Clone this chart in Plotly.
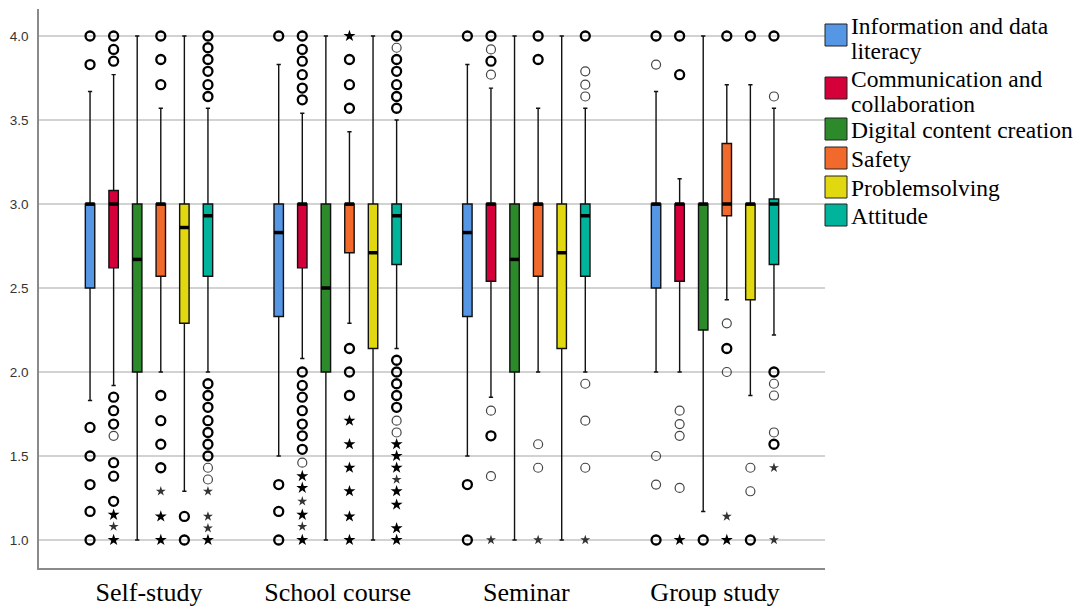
import plotly.graph_objects as go
from collections import Counter

# Learning settings on the category axis
groups = ["Self-study", "School course", "Seminar", "Group study"]

# Competence domains, one box per setting
domains = [
    "Information and data literacy",
    "Communication and collaboration",
    "Digital content creation",
    "Safety",
    "Problemsolving",
    "Attitude",
]
domain_lines = [
    ["Information and data", "literacy"],
    ["Communication and", "collaboration"],
    ["Digital content creation"],
    ["Safety"],
    ["Problemsolving"],
    ["Attitude"],
]
colors = ["#5596E5", "#D5003A", "#2C8A2B", "#F26A2B", "#E2D80F", "#00B39B"]

# Box statistics: rows = domains, columns = settings
box_q1 = [
    [2.50, 2.33, 2.33, 2.50],
    [2.62, 2.62, 2.54, 2.54],
    [2.00, 2.00, 2.00, 2.25],
    [2.57, 2.71, 2.57, 2.93],
    [2.29, 2.14, 2.14, 2.43],
    [2.57, 2.64, 2.57, 2.64],
]
box_median = [
    [3.00, 2.83, 2.83, 3.00],
    [3.00, 3.00, 3.00, 3.00],
    [2.67, 2.50, 2.67, 3.00],
    [3.00, 3.00, 3.00, 3.00],
    [2.86, 2.71, 2.71, 3.00],
    [2.93, 2.93, 2.93, 3.00],
]
box_q3 = [
    [3.00, 3.00, 3.00, 3.00],
    [3.08, 3.00, 3.00, 3.00],
    [3.00, 3.00, 3.00, 3.00],
    [3.00, 3.00, 3.00, 3.36],
    [3.00, 3.00, 3.00, 3.00],
    [3.00, 3.00, 3.00, 3.03],
]
whisker_low = [
    [1.83, 1.50, 1.50, 2.00],
    [1.92, 2.08, 1.85, 2.00],
    [1.00, 1.00, 1.00, 1.17],
    [2.00, 2.29, 2.00, 2.43],
    [1.29, 1.00, 1.00, 1.86],
    [2.00, 2.14, 2.00, 2.22],
]
whisker_high = [
    [3.67, 3.83, 3.83, 3.67],
    [3.77, 3.54, 3.69, 3.15],
    [4.00, 4.00, 4.00, 4.00],
    [3.57, 3.43, 3.57, 3.71],
    [4.00, 4.00, 4.00, 3.71],
    [3.57, 3.50, 3.57, 3.57],
]

# Outlying cases (repeated values = several respondents at that score)
info_outliers = [
    [4.0, 4.0, 3.83, 3.83, 1.67, 1.67, 1.5, 1.5, 1.33, 1.33, 1.17, 1.17, 1.0, 1.0],
    [4.0, 4.0, 1.33, 1.33, 1.17, 1.17, 1.0, 1.0],
    [4.0, 4.0, 1.33, 1.33, 1.0, 1.0],
    [4.0, 4.0, 3.83, 1.5, 1.33, 1.0, 1.0],
]
info_extremes = [[], [], [], []]

comm_outliers = [
    [4.0, 4.0, 3.92, 3.92, 3.85, 3.85, 1.85, 1.85, 1.77, 1.77, 1.69, 1.69, 1.62,
     1.46, 1.46, 1.38, 1.38, 1.23, 1.23],
    [4.0, 4.0, 3.92, 3.92, 3.85, 3.85, 3.77, 3.77, 3.69, 3.69, 3.62, 3.62,
     2.0, 2.0, 1.92, 1.92, 1.85, 1.85, 1.77, 1.77, 1.69, 1.69, 1.62, 1.62,
     1.54, 1.54, 1.46],
    [4.0, 4.0, 3.92, 3.85, 3.85, 3.77, 1.77, 1.62, 1.62, 1.38],
    [4.0, 4.0, 3.77, 3.77, 1.77, 1.69, 1.62, 1.31],
]
comm_extremes = [
    [1.15, 1.15, 1.08, 1.0, 1.0],
    [1.38, 1.38, 1.31, 1.31, 1.23, 1.15, 1.15, 1.08, 1.0, 1.0],
    [1.0],
    [1.0, 1.0],
]

digital_outliers = [[], [], [], [1.0, 1.0]]
digital_extremes = [[], [], [], []]

safety_outliers = [
    [4.0, 4.0, 3.86, 3.86, 3.71, 3.71, 1.86, 1.86, 1.71, 1.71, 1.57, 1.57, 1.43, 1.43],
    [3.86, 3.86, 3.71, 3.71, 3.57, 3.57, 2.14, 2.14, 2.0, 2.0, 1.86, 1.86],
    [4.0, 4.0, 3.86, 3.86, 1.57, 1.43],
    [4.0, 4.0, 2.29, 2.14, 2.14, 2.0],
]
safety_extremes = [
    [1.29, 1.14, 1.14, 1.0, 1.0],
    [4.0, 4.0, 1.71, 1.71, 1.57, 1.57, 1.43, 1.43, 1.29, 1.29, 1.14, 1.14, 1.0, 1.0],
    [1.0],
    [1.14, 1.0, 1.0],
]

problem_outliers = [
    [1.14, 1.14, 1.0, 1.0],
    [],
    [],
    [4.0, 4.0, 1.43, 1.29, 1.0, 1.0],
]
problem_extremes = [[], [], [], []]

attitude_outliers = [
    [4.0, 4.0, 3.93, 3.93, 3.86, 3.86, 3.79, 3.79, 3.71, 3.71, 3.64, 3.64,
     1.93, 1.93, 1.86, 1.86, 1.79, 1.79, 1.71, 1.71, 1.64, 1.64, 1.57, 1.57,
     1.5, 1.5, 1.43, 1.36],
    [4.0, 4.0, 3.93, 3.86, 3.86, 3.79, 3.79, 3.71, 3.71, 3.64, 3.64, 3.57, 3.57,
     2.07, 2.07, 2.0, 2.0, 1.93, 1.93, 1.86, 1.86, 1.79, 1.79, 1.71, 1.64],
    [4.0, 4.0, 3.79, 3.71, 3.64, 1.93, 1.71, 1.43],
    [4.0, 4.0, 3.64, 2.0, 2.0, 1.93, 1.86, 1.64, 1.57, 1.57],
]
attitude_extremes = [
    [1.29, 1.14, 1.07, 1.0, 1.0],
    [1.57, 1.57, 1.5, 1.5, 1.43, 1.43, 1.36, 1.29, 1.29, 1.21, 1.21, 1.07, 1.07, 1.0, 1.0],
    [1.0],
    [1.43, 1.0],
]

outliers = [info_outliers, comm_outliers, digital_outliers,
            safety_outliers, problem_outliers, attitude_outliers]
extremes = [info_extremes, comm_extremes, digital_extremes,
            safety_extremes, problem_extremes, attitude_extremes]

# Geometry of the grouped layout (category units)
STEP = 0.125
BOX_W = 0.05


def pos(g, d):
    return g + (d - 2.5) * STEP


fig = go.Figure()

for d, name in enumerate(domains):
    xs = [pos(g, d) for g in range(len(groups))]
    fig.add_trace(go.Box(
        x=xs,
        q1=box_q1[d], median=box_median[d], q3=box_q3[d],
        lowerfence=whisker_low[d], upperfence=whisker_high[d],
        name=name, width=BOX_W, whiskerwidth=0.45,
        fillcolor=colors[d], line=dict(color="#111111", width=1.4),
        boxpoints=False, showlegend=False, hoverinfo="skip",
    ))
    # heavier median bar
    mx, my = [], []
    for g, x in enumerate(xs):
        mx += [x - BOX_W / 2, x + BOX_W / 2, None]
        my += [box_median[d][g], box_median[d][g], None]
    fig.add_trace(go.Scatter(x=mx, y=my, mode="lines",
                             line=dict(color="black", width=3.5),
                             showlegend=False, hoverinfo="skip"))


def point_sets(table):
    heavy_x, heavy_y, light_x, light_y = [], [], [], []
    for d, per_group in enumerate(table):
        for g, values in enumerate(per_group):
            for v, n in Counter(values).items():
                if n > 1:
                    heavy_x.append(pos(g, d)); heavy_y.append(v)
                else:
                    light_x.append(pos(g, d)); light_y.append(v)
    return heavy_x, heavy_y, light_x, light_y


hx, hy, lx, ly = point_sets(outliers)
fig.add_trace(go.Scatter(x=hx, y=hy, mode="markers", showlegend=False, hoverinfo="skip",
                         marker=dict(symbol="circle-open", size=9, color="black",
                                     line=dict(width=2.3, color="black"))))
fig.add_trace(go.Scatter(x=lx, y=ly, mode="markers", showlegend=False, hoverinfo="skip",
                         marker=dict(symbol="circle-open", size=9, color="#444444",
                                     line=dict(width=1.2, color="#444444"))))
hx, hy, lx, ly = point_sets(extremes)
fig.add_trace(go.Scatter(x=hx, y=hy, mode="markers", showlegend=False, hoverinfo="skip",
                         marker=dict(symbol="star", size=9, color="black",
                                     line=dict(width=0))))
fig.add_trace(go.Scatter(x=lx, y=ly, mode="markers", showlegend=False, hoverinfo="skip",
                         marker=dict(symbol="star", size=7.5, color="#333333",
                                     line=dict(width=0))))

# Plot area in pixels
W, H = 1078, 609
L, R, T, B = 39, 825, 9, 568


def px(x):
    return (x - L) / (R - L)


def py(y):
    return (B - y) / (B - T)


# Legend built from squares and labels to the right of the plot
shapes = []
annotations = []
item_tops = [24, 77, 118, 147, 176, 204]
for d, lines in enumerate(domain_lines):
    top = item_tops[d]
    shapes.append(dict(type="rect", xref="paper", yref="paper",
                       x0=px(825), x1=px(847), y0=py(top + 22), y1=py(top),
                       fillcolor=colors[d], line=dict(color="#222222", width=1)))
    first = top + 2 if len(lines) > 1 else top + 12
    for i, text in enumerate(lines):
        annotations.append(dict(
            x=px(849), y=py(first + i * 25), xref="paper", yref="paper",
            text=text, showarrow=False, xanchor="left", yanchor="middle",
            font=dict(family="Liberation Serif, Times New Roman, serif", size=23.5,
                      color="black")))

fig.update_layout(
    width=W, height=H,
    margin=dict(l=L, r=W - R, t=T, b=H - B, pad=0, autoexpand=False),
    paper_bgcolor="white", plot_bgcolor="white",
    boxmode="overlay",
    shapes=shapes, annotations=annotations,
    xaxis=dict(
        range=[-0.583, 3.583], tickvals=list(range(len(groups))), ticktext=groups,
        showgrid=False, zeroline=False, showline=True, linecolor="#8a8a8a",
        linewidth=1.6, ticks="", ticklabelstandoff=0, automargin=False,
        tickfont=dict(family="Liberation Serif, Times New Roman, serif", size=26,
                      color="black"),
    ),
    yaxis=dict(
        range=[0.8333, 4.1607], tickvals=[1.0, 1.5, 2.0, 2.5, 3.0, 3.5, 4.0],
        tickformat=".1f", showgrid=True, gridcolor="#d2d2d2", gridwidth=1.6,
        zeroline=False, showline=True, linecolor="#8a8a8a", linewidth=1.6,
        ticks="", ticklabelstandoff=6, automargin=False,
        tickfont=dict(family="Liberation Sans, Arial, sans-serif", size=13.5,
                      color="#333333"),
    ),
)

fig.write_html("out.html")
